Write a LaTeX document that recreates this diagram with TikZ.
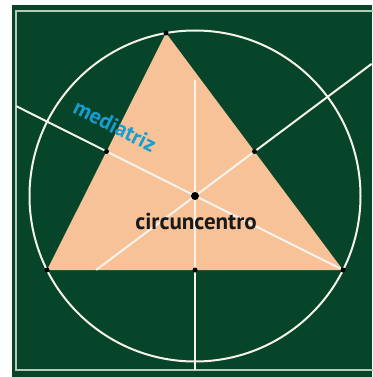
\documentclass[tikz,border=0pt]{standalone}
\usepackage{fontspec}
\setmainfont{PT Sans}
\usetikzlibrary{calc}

\definecolor{board}{RGB}{7,69,42}
\definecolor{peach}{RGB}{248,194,152}
\definecolor{chalk}{RGB}{246,243,235}
\definecolor{labelblue}{RGB}{22,158,210}

\begin{document}
\begin{tikzpicture}[x=1pt,y=-1pt,
    chalkline/.style={draw=chalk,line width=2pt},
    dot/.style={circle,fill=black,inner sep=0pt,minimum size=5pt}]

    \useasboundingbox (0,0) rectangle (372,377);

    % Draw the board and its frame
    \fill[board] (12,5) rectangle (372,377);
    \draw[chalk!75!board,line width=2pt] (15.5,11) rectangle (380,370);

    % Define the vertices A, B, C and the circumcenter O
    \coordinate (A) at (166,33);
    \coordinate (B) at (47,270);
    \coordinate (C) at (343,270);
    \coordinate (O) at (195,196);

    % Midpoints of the sides
    \coordinate (Mab) at ($(A)!0.5!(B)$);
    \coordinate (Mac) at ($(A)!0.5!(C)$);
    \coordinate (Mbc) at ($(B)!0.5!(C)$);

    % Free ends of the perpendicular bisectors
    \coordinate (Pab) at ($(O)!2.02!(Mab)$);
    \coordinate (Pac) at ($(O)!2.97!(Mac)$);
    \coordinate (Qac) at ($(O)!-1.66!(Mac)$);
    \coordinate (Pbc) at (195,80);
    \coordinate (Qbc) at (195,370);

    % Fill the triangle
    \fill[peach] (A) -- (B) -- (C) -- cycle;

    % Draw the circumscribed circle
    \draw[chalkline] (O) circle (165.5pt);

    % Draw the perpendicular bisectors
    \draw[chalkline] (Pab) -- (C);
    \draw[chalkline] (Pac) -- (Qac);
    \draw[chalkline] (Pbc) -- (Qbc);

    % Dots at vertices, midpoints and circumcenter
    \foreach \p in {A,B,C,Mab,Mac,Mbc}
        \node[dot] (d\p) at (\p) {};
    \node[dot,minimum size=8pt] (dO) at (O) {};

    % Add labels
    \node[text=labelblue,font=\bfseries\fontsize{22}{24}\selectfont,
        rotate=-26.6] (mediatriz) at (115,126) {mediatriz};
    \node[text=black!90,font=\bfseries\fontsize{23}{25}\selectfont]
        (circuncentro) at (196,221) {circuncentro};

\end{tikzpicture}
\end{document}
